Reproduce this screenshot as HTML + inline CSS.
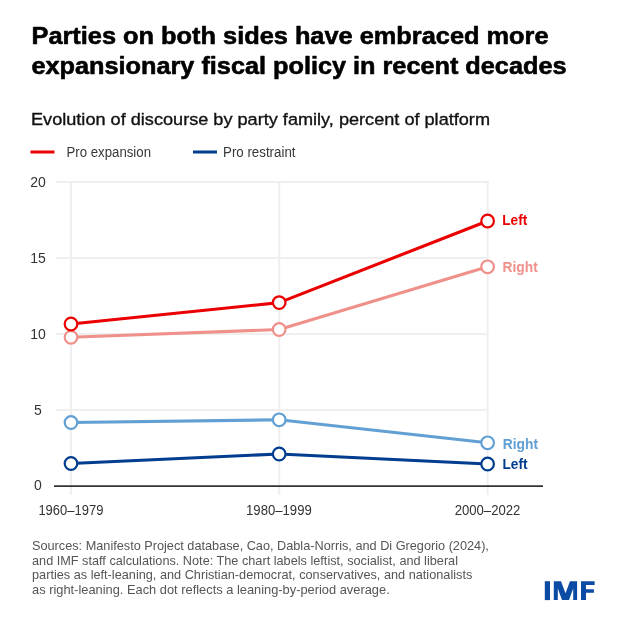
<!DOCTYPE html>
<html><head><meta charset="utf-8">
<style>
html,body{margin:0;padding:0;background:#fff;width:624px;height:624px;overflow:hidden}
svg{display:block;will-change:transform}
text{font-family:"Liberation Sans",sans-serif}
</style></head><body>
<svg width="624" height="624" viewBox="0 0 624 624">
<rect width="624" height="624" fill="#fff"/>
<!-- title -->
<g font-weight="bold" font-size="24.4" fill="#000" stroke="#000" stroke-width="0.6" stroke-linejoin="round">
<text x="31.5" y="44" textLength="517" lengthAdjust="spacingAndGlyphs">Parties on both sides have embraced more</text>
<text x="31.5" y="74" textLength="535" lengthAdjust="spacingAndGlyphs">expansionary fiscal policy in recent decades</text>
</g>
<text x="31" y="124.6" font-size="17.2" fill="#111" stroke="#111" stroke-width="0.35" textLength="459" lengthAdjust="spacingAndGlyphs">Evolution of discourse by party family, percent of platform</text>
<!-- legend -->
<line x1="30.5" y1="152" x2="54.5" y2="152" stroke="#ea0000" stroke-width="3"/>
<text x="66.5" y="156.8" font-size="13.8" fill="#383838" textLength="84.5" lengthAdjust="spacingAndGlyphs">Pro expansion</text>
<line x1="193" y1="152" x2="217" y2="152" stroke="#003d8f" stroke-width="3"/>
<text x="223" y="156.8" font-size="13.8" fill="#383838" textLength="72.5" lengthAdjust="spacingAndGlyphs">Pro restraint</text>
<!-- grid -->
<g stroke="#efefef" stroke-width="2">
<line x1="56" y1="182" x2="488.6" y2="182"/>
<line x1="56" y1="258" x2="488.6" y2="258"/>
<line x1="56" y1="334" x2="488.6" y2="334"/>
<line x1="56" y1="410" x2="488.6" y2="410"/>
<line x1="71" y1="181" x2="71" y2="495"/>
<line x1="279.2" y1="181" x2="279.2" y2="495"/>
<line x1="487.7" y1="181" x2="487.7" y2="495"/>
</g>
<line x1="54" y1="486.2" x2="543" y2="486.2" stroke="#333" stroke-width="1.8"/>
<!-- y labels -->
<g font-size="14" fill="#333" text-anchor="middle">
<text x="38" y="186.5">20</text>
<text x="38" y="262.5">15</text>
<text x="38" y="338.5">10</text>
<text x="38" y="414.5">5</text>
<text x="38" y="490.4">0</text>
</g>
<!-- x labels -->
<g font-size="14" fill="#333" text-anchor="middle">
<text x="70.9" y="515" textLength="65" lengthAdjust="spacingAndGlyphs">1960–1979</text>
<text x="278.9" y="515" textLength="65.7" lengthAdjust="spacingAndGlyphs">1980–1999</text>
<text x="487.5" y="515" textLength="65.7" lengthAdjust="spacingAndGlyphs">2000–2022</text>
</g>
<!-- series -->
<g fill="none" stroke-width="3.1" stroke-linejoin="round">
<polyline points="71,337.3 279.2,329.5 487.6,266.8" stroke="#f0908a"/>
<polyline points="71,324 279.2,302.6 487.6,221" stroke="#ea0000"/>
<polyline points="71,422.5 279.2,419.8 487.6,442.8" stroke="#62a0d4"/>
<polyline points="71,463.5 279.2,454 487.6,464" stroke="#003d8f"/>
</g>
<g fill="#fff" stroke-width="2.2">
<g stroke="#f0908a"><circle cx="71" cy="337.3" r="6.3"/><circle cx="279.2" cy="329.5" r="6.3"/><circle cx="487.6" cy="266.8" r="6.3"/></g>
<g stroke="#ea0000"><circle cx="71" cy="324" r="6.3"/><circle cx="279.2" cy="302.6" r="6.3"/><circle cx="487.6" cy="221" r="6.3"/></g>
<g stroke="#62a0d4"><circle cx="71" cy="422.5" r="6.3"/><circle cx="279.2" cy="419.8" r="6.3"/><circle cx="487.6" cy="442.8" r="6.3"/></g>
<g stroke="#003d8f"><circle cx="71" cy="463.5" r="6.3"/><circle cx="279.2" cy="454" r="6.3"/><circle cx="487.6" cy="464" r="6.3"/></g>
</g>
<!-- end labels -->
<g font-size="14" font-weight="bold">
<text x="502.3" y="225.3" fill="#ea0000" textLength="25" lengthAdjust="spacingAndGlyphs">Left</text>
<text x="502.6" y="272" fill="#f0908a" textLength="35.2" lengthAdjust="spacingAndGlyphs">Right</text>
<text x="502.8" y="449" fill="#62a0d4" textLength="35.2" lengthAdjust="spacingAndGlyphs">Right</text>
<text x="502.5" y="469.3" fill="#003d8f" textLength="25" lengthAdjust="spacingAndGlyphs">Left</text>
</g>
<!-- footnote -->
<g font-size="12.8" fill="#555">
<text x="32" y="550" textLength="456.9" lengthAdjust="spacingAndGlyphs">Sources: Manifesto Project database, Cao, Dabla-Norris, and Di Gregorio (2024),</text>
<text x="32" y="564.5" textLength="426" lengthAdjust="spacingAndGlyphs">and IMF staff calculations. Note: The chart labels leftist, socialist, and liberal</text>
<text x="32" y="579.1" textLength="440.3" lengthAdjust="spacingAndGlyphs">parties as left-leaning, and Christian-democrat, conservatives, and nationalists</text>
<text x="32" y="594.2" textLength="357.7" lengthAdjust="spacingAndGlyphs">as right-leaning. Each dot reflects a leaning-by-period average.</text>
</g>
<!-- IMF logo -->
<g fill="#0c4ba3">
<rect x="544.8" y="581.2" width="5.2" height="18.9"/>
<path d="M553.8 600.1V581.2H561L565.5 593.2L570 581.2H577.1V600.1H573.2V588.4L569 600.1H562L557.8 588.4V600.1Z"/>
<path d="M581 600.1V581.2H594.6V585H586V589.2H593.9V592.7H586V600.1Z"/>
</g>
</svg>
</body></html>
